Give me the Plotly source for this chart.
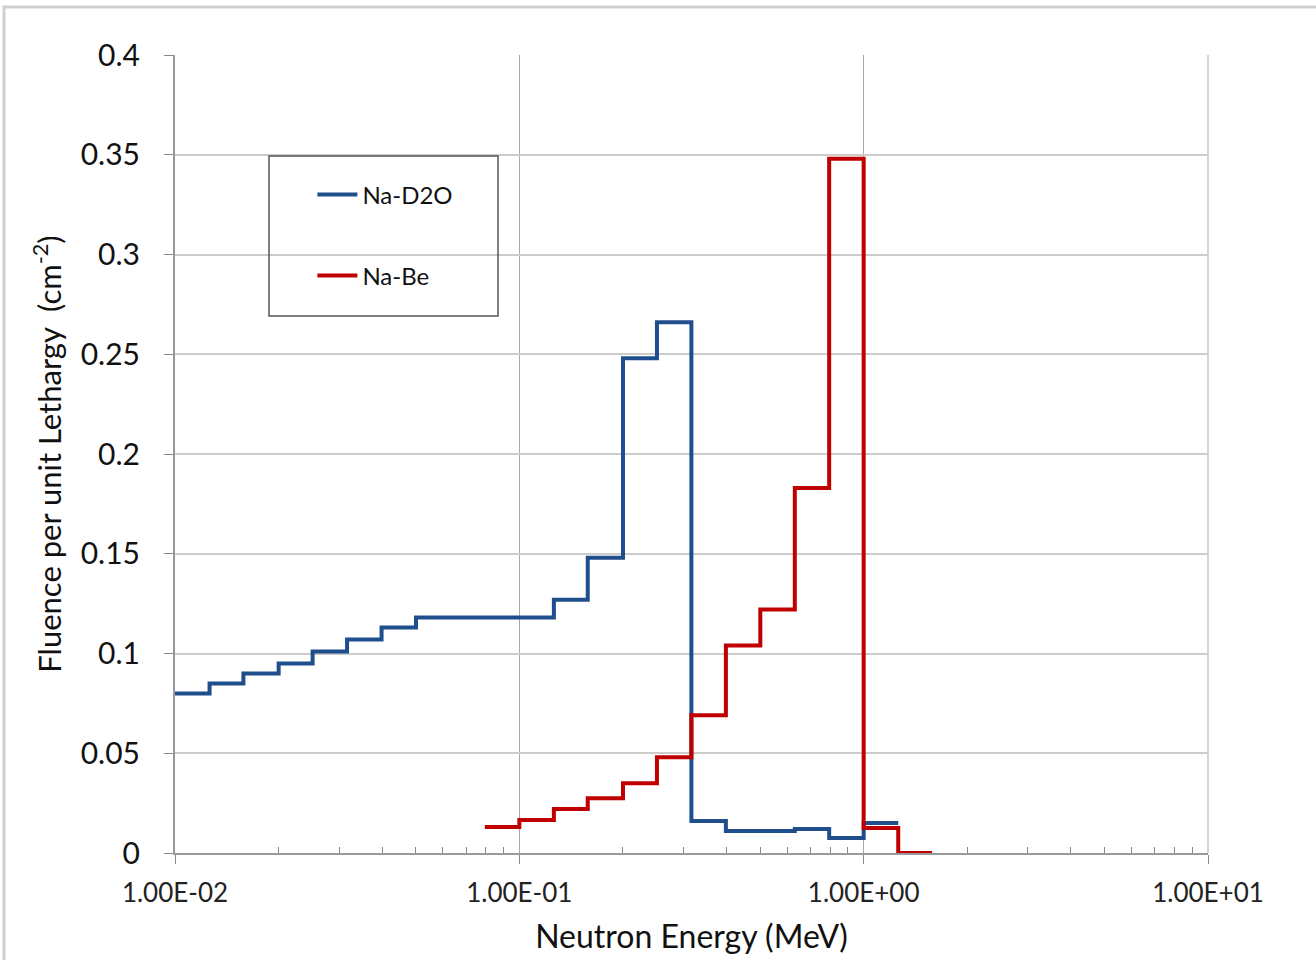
import plotly.graph_objects as go

# Bin edges (MeV) and fluence per unit lethargy values
blue_edges = [0.01, 0.0126, 0.0158, 0.02, 0.0251, 0.0316, 0.0398, 0.0501, 0.0631,
              0.0794, 0.1, 0.126, 0.158, 0.2, 0.251, 0.316, 0.398, 0.501, 0.631,
              0.794, 1.0, 1.26]
blue_vals = [0.080, 0.085, 0.090, 0.095, 0.101, 0.107, 0.113, 0.118, 0.118,
             0.118, 0.118, 0.127, 0.148, 0.248, 0.266, 0.016, 0.011, 0.011,
             0.012, 0.0075, 0.015]

red_edges = [0.0794, 0.1, 0.126, 0.158, 0.2, 0.251, 0.316, 0.398, 0.501, 0.631,
             0.794, 1.0, 1.26, 1.58]
red_vals = [0.013, 0.0165, 0.022, 0.0275, 0.035, 0.048, 0.069, 0.104, 0.122,
            0.183, 0.348, 0.0125, 0.0]

x_tickvals = [0.01, 0.1, 1, 10]
x_ticktext = ["1.00E-02", "1.00E-01", "1.00E+00", "1.00E+01"]
y_tickvals = [0, 0.05, 0.1, 0.15, 0.2, 0.25, 0.3, 0.35, 0.4]

FONT = "Lato"
BLUE = "#1f4e8c"
RED = "#c00000"

fig = go.Figure()
fig.add_trace(go.Scatter(
    x=blue_edges, y=blue_vals + [blue_vals[-1]], mode="lines", line_shape="hv",
    line=dict(color=BLUE, width=4), name="Na-D2O", legendgroup="a"))
fig.add_trace(go.Scatter(
    x=red_edges, y=red_vals + [red_vals[-1]], mode="lines", line_shape="hv",
    line=dict(color=RED, width=4), name="Na-Be", legendgroup="b"))

minor_vals = [k * 10 ** d for d in (-2, -1, 0) for k in range(2, 10)]

fig.update_layout(
    width=1316, height=960,
    margin=dict(l=175, r=108, t=55, b=107),
    paper_bgcolor="white", plot_bgcolor="white",
    font=dict(family=FONT, color="#111111"),
    showlegend=True,
    legend=dict(x=0.133, y=0.853, xanchor="left", yanchor="top",
                bgcolor="rgba(0,0,0,0)", borderwidth=0,
                font=dict(size=24, family=FONT, color="#111111"),
                tracegroupgap=47, traceorder="grouped",
                itemwidth=40),
    xaxis=dict(type="log", range=[-2, 1],
               tickmode="array", tickvals=x_tickvals, ticktext=x_ticktext,
               tickfont=dict(size=26, family=FONT, color="#222222"),
               ticks="outside", ticklen=9, tickcolor="#888888", tickwidth=1,
               ticklabelstandoff=7,
               showgrid=True, gridcolor="#a8a8a8", gridwidth=1,
               showline=True, linecolor="#9a9a9a", linewidth=2,
               minor=dict(tickvals=minor_vals, ticks="inside", ticklen=6,
                          tickcolor="#888888", showgrid=False),
               title=dict(text="Neutron Energy (MeV)", standoff=18,
                          font=dict(size=32, family=FONT, color="#111111")),
               zeroline=False),
    yaxis=dict(range=[0, 0.4], tickmode="array", tickvals=y_tickvals,
               tickfont=dict(size=30, family=FONT, color="#111111"),
               ticks="outside", ticklen=9, tickcolor="#888888",
               ticklabelstandoff=18,
               showgrid=True, gridcolor="#cccccc", gridwidth=2,
               showline=True, linecolor="#9a9a9a", linewidth=2,
               title=dict(text="Fluence per unit Lethargy  (cm<sup>-2</sup>)", standoff=10,
                          font=dict(size=31, family=FONT, color="#111111")),
               zeroline=False),
    shapes=[
        # right-edge vertical gridline at 1.00E+01
        dict(type="line", xref="paper", yref="paper", x0=1, x1=1, y0=0, y1=1,
             line=dict(color="#a8a8a8", width=1), layer="below"),
        # legend box
        dict(type="rect", xref="paper", yref="paper",
             x0=(269 - 175) / 1033, x1=(498 - 175) / 1033,
             y0=(853 - 316) / 798, y1=(853 - 156) / 798,
             line=dict(color="#555555", width=1.5), fillcolor="rgba(0,0,0,0)",
             layer="above"),
        # outer chart frame
        dict(type="rect", xref="paper", yref="paper",
             x0=(4 - 175) / 1033, x1=(1330 - 175) / 1033,
             y0=(853 - 980) / 798, y1=(853 - 7) / 798,
             line=dict(color="#d0d0d0", width=3), fillcolor="rgba(0,0,0,0)",
             layer="below"),
    ],
)

fig.write_html("out.html")
